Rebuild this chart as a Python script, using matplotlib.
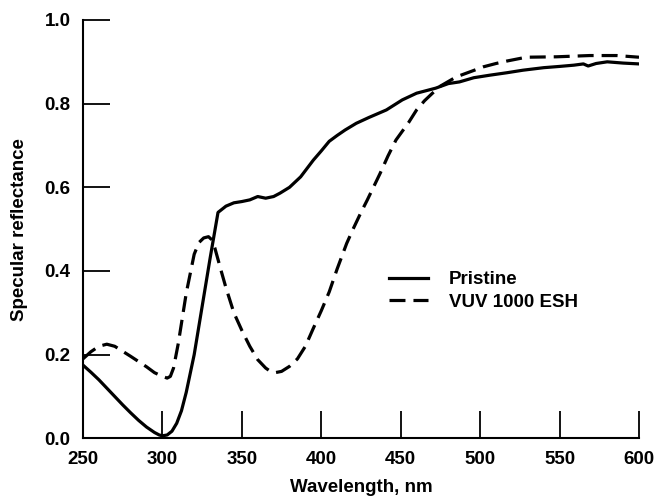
import matplotlib
matplotlib.use('Agg')
import matplotlib.pyplot as plt

# Pristine sample
pristine_nm = [250, 255, 260, 265, 270, 275, 280, 285, 290, 295, 298, 300, 303, 306,
               309, 312, 315, 320, 325, 330, 335, 340, 345, 350, 355, 360, 365, 370,
               374, 380, 387, 395, 400, 405, 410, 415, 422, 430, 441, 451, 460, 472,
               480, 487, 496, 506, 517, 527, 540, 550, 559, 565, 568, 573, 580, 590, 600]
pristine_r = [0.175, 0.158, 0.14, 0.12, 0.10, 0.08, 0.061, 0.043, 0.027, 0.014, 0.008,
              0.006, 0.008, 0.017, 0.036, 0.066, 0.11, 0.20, 0.315, 0.43, 0.54, 0.555,
              0.563, 0.566, 0.570, 0.578, 0.574, 0.578, 0.586, 0.60, 0.625, 0.665, 0.687,
              0.71, 0.724, 0.737, 0.753, 0.767, 0.785, 0.809, 0.825, 0.837, 0.848, 0.852,
              0.862, 0.868, 0.874, 0.880, 0.886, 0.889, 0.892, 0.895, 0.890, 0.896,
              0.900, 0.897, 0.895]

# after VUV exposure
vuv_nm = [250, 255, 260, 265, 270, 280, 290, 295, 300, 303, 305, 307, 310, 315, 320,
          323, 326, 329, 331, 333, 337, 340, 345, 350, 355, 360, 365, 368, 371, 375,
          380, 385, 390, 395, 400, 405, 410, 416, 420, 425, 429, 437, 442, 447, 455,
          460, 465, 470, 475, 485, 495, 502, 510, 517, 529, 548, 569, 586, 600]
vuv_r = [0.19, 0.207, 0.22, 0.225, 0.22, 0.196, 0.171, 0.157, 0.148, 0.144, 0.148,
         0.168, 0.227, 0.347, 0.44, 0.468, 0.479, 0.482, 0.475, 0.455, 0.40, 0.36,
         0.30, 0.258, 0.22, 0.188, 0.168, 0.16, 0.157, 0.16, 0.172, 0.19, 0.22, 0.263,
         0.305, 0.35, 0.405, 0.466, 0.50, 0.54, 0.57, 0.633, 0.675, 0.713, 0.755,
         0.785, 0.807, 0.825, 0.842, 0.864, 0.878, 0.888, 0.896, 0.902, 0.911, 0.912,
         0.915, 0.915, 0.911]

xticks = [250, 300, 350, 400, 450, 500, 550, 600]
yticks = [0.0, 0.2, 0.4, 0.6, 0.8, 1.0]

plt.rcParams['font.family'] = ['Liberation Sans', 'DejaVu Sans']
plt.rcParams['font.weight'] = 'bold'

fig = plt.figure(figsize=(6.57, 5.01), dpi=100)
ax = fig.add_axes([0.1263, 0.1251, 0.8463, 0.835])

ax.plot(pristine_nm, pristine_r, color='black', lw=2.3, label='Pristine')
ax.plot(vuv_nm, vuv_r, color='black', lw=2.3, linestyle=(0, (5, 2.5)), label='VUV 1000 ESH')

ax.set_xlim(250, 600)
ax.set_ylim(0, 1)
ax.set_xticks(xticks)
ax.set_yticks(yticks)
ax.set_yticklabels(['%.1f' % v for v in yticks])

for s in ['top', 'right']:
    ax.spines[s].set_visible(False)
for s in ['left', 'bottom']:
    ax.spines[s].set_linewidth(1.5)

ax.tick_params(direction='in', length=19.5, width=1.3, labelsize=13.5, pad=9)

ax.set_xlabel('Wavelength, nm', fontsize=13.5, fontweight='bold', labelpad=8)
ax.set_ylabel('Specular reflectance', fontsize=13.5, fontweight='bold', labelpad=12)

ax.legend(loc='upper left', bbox_to_anchor=(0.55, 0.40), frameon=False,
          fontsize=13.5, handlelength=2.1, handletextpad=1.1, labelspacing=0.3,
          borderpad=0, borderaxespad=0)

plt.savefig('out.png', dpi=100)
